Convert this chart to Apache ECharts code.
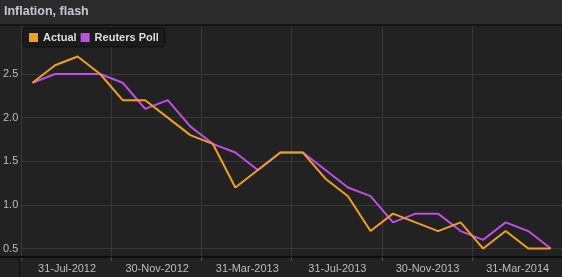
<!DOCTYPE html>
<html>
<head>
<meta charset="utf-8">
<script src="https://cdn.jsdelivr.net/npm/echarts@6/dist/echarts.min.js"></script>
<style>
html,body{margin:0;padding:0;background:#222;}
#c{width:562px;height:277px;}
</style>
</head>
<body>
<div id="c"></div>
<script>
var categories = ['31-Jul-2012','31-Aug-2012','30-Sep-2012','31-Oct-2012','30-Nov-2012','31-Dec-2012',
  '31-Jan-2013','28-Feb-2013','31-Mar-2013','30-Apr-2013','31-May-2013','30-Jun-2013',
  '31-Jul-2013','31-Aug-2013','30-Sep-2013','31-Oct-2013','30-Nov-2013','31-Dec-2013',
  '31-Jan-2014','28-Feb-2014','31-Mar-2014','30-Apr-2014','31-May-2014','30-Jun-2014'];
var actual = [2.4,2.6,2.7,2.5,2.2,2.2,2.0,1.8,1.7,1.2,1.4,1.6,1.6,1.3,1.1,0.7,0.9,0.8,0.7,0.8,0.5,0.7,0.5,0.5];
var reutersPoll = [2.4,2.5,2.5,2.5,2.4,2.1,2.2,1.9,1.7,1.6,1.4,1.6,1.6,1.4,1.2,1.1,0.8,0.9,0.9,0.7,0.6,0.8,0.7,0.5];
var yTicks = [0.5,1.0,1.5,2.0,2.5];

var chart = echarts.init(document.getElementById('c'));
var font = '"Liberation Sans", Arial, sans-serif';
chart.setOption({
  backgroundColor: '#222222',
  animation: false,
  graphic: [
    {type:'rect', shape:{x:0,y:0,width:562,height:24}, style:{fill:'#2b2b2b'}, z:0},
    {type:'rect', shape:{x:0,y:24,width:562,height:2}, style:{fill:'#151515'}, z:0},
    {type:'line', shape:{x1:0,y1:257,x2:22,y2:257}, style:{stroke:'#0e0e0e',lineWidth:2}, z:5},
    {type:'line', shape:{x1:19.5,y1:257,x2:19.5,y2:277}, style:{stroke:'#141414',lineWidth:1.5}, z:5}
  ],
  title: {
    text: 'Inflation, flash',
    left: 4, top: 5, padding: 0, z: 10,
    textStyle: {color:'#c9c6d2', fontSize:12.5, fontWeight:'bold', fontFamily: font}
  },
  legend: {
    left: 23, top: 28,
    padding: [4,6,4,6],
    itemWidth: 9, itemHeight: 9, itemGap: 4,
    icon: 'rect',
    backgroundColor: '#1b1b1b',
    borderColor: '#111111', borderWidth: 1, borderRadius: 3,
    textStyle: {color:'#dddddd', fontSize:11, fontWeight:'bold', fontFamily: font},
    data: ['Actual','Reuters Poll']
  },
  grid: {left:21, right:0, top:26, bottom:20},
  xAxis: {
    type: 'category',
    data: categories,
    boundaryGap: true,
    axisLine: {show:true, lineStyle:{color:'#0e0e0e', width:2}},
    axisTick: {show:true, interval:3, length:4, lineStyle:{color:'#4a4a4a'}},
    splitLine: {show:true, interval:3, lineStyle:{color:'#383838', width:1}},
    axisLabel: {
      interval: 3, margin: 6, padding: [0,0,0,69],
      color:'#bdbdbd', fontSize:11, fontFamily: font
    }
  },
  yAxis: {
    type: 'value',
    min: 0.403, max: 3.05,
    axisLine: {show:true, lineStyle:{color:'#383838'}},
    axisTick: {show:false, customValues: yTicks},
    splitLine: {show:true, lineStyle:{color:'#383838', width:1}},
    axisLabel: {
      customValues: yTicks, margin: 3,
      color:'#bdbdbd', fontSize:11, fontFamily: font,
      formatter: function(v){ return v.toFixed(1); }
    }
  },
  series: [
    {name:'Actual', type:'line', data: actual, symbol:'none', color:'#f0a020',
     lineStyle:{width:2, color:'#f0a020'}, z:3},
    {name:'Reuters Poll', type:'line', data: reutersPoll, symbol:'none', color:'#c04ee8',
     lineStyle:{width:2, color:'#c04ee8'}, z:2}
  ]
});
</script>
</body>
</html>
